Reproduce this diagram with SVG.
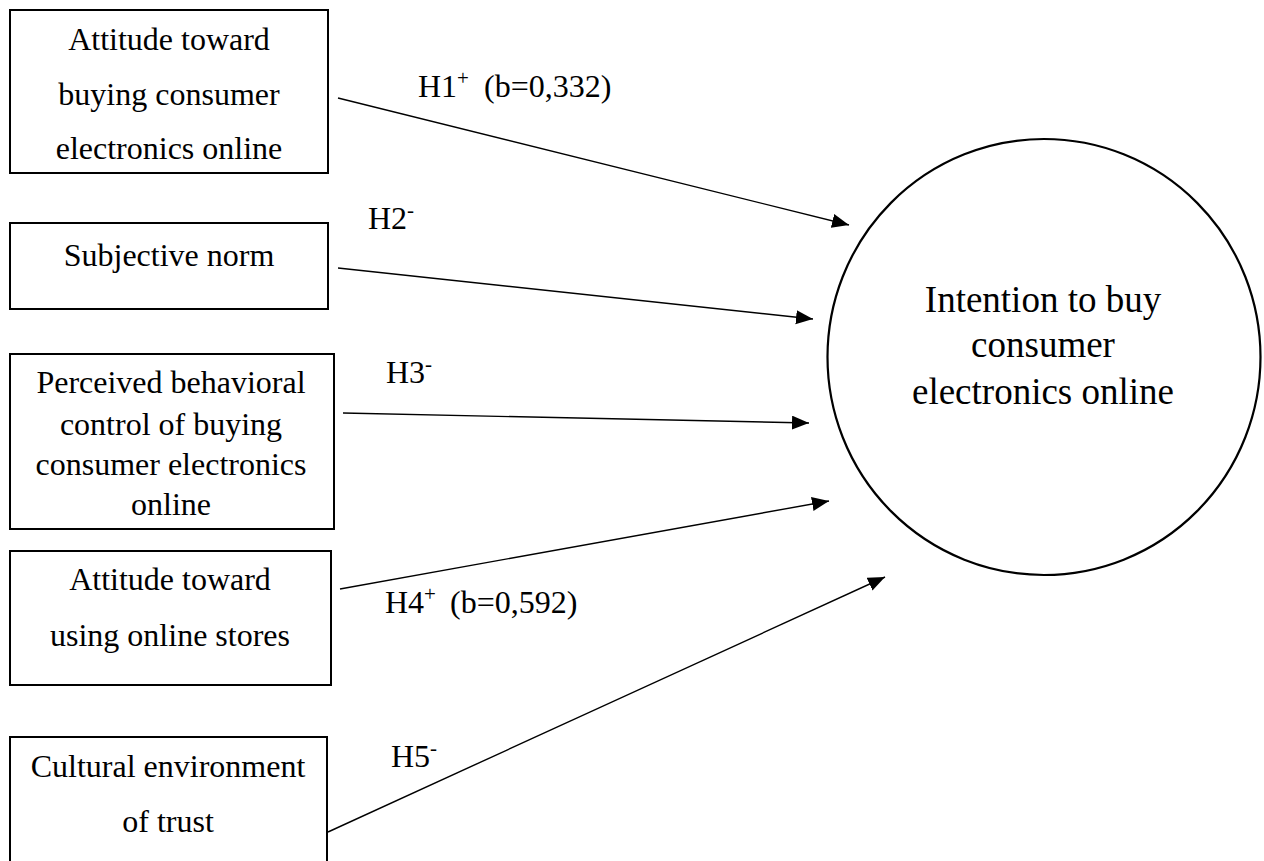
<svg xmlns="http://www.w3.org/2000/svg" width="1264" height="861" viewBox="0 0 1264 861">
  <style>
    .box { fill: #ffffff; stroke: #000000; stroke-width: 2; }
    .ellipse { fill: #ffffff; stroke: #000000; stroke-width: 2.2; }
    text { font-family: "Liberation Serif", "Times New Roman", serif; fill: #000000; }
    .lbl { font-size: 32px; }
    .big { font-size: 37px; }
    .mid { text-anchor: middle; }
    .sup { font-size: 21px; }
    .edge { stroke: #000000; stroke-width: 1.4; fill: none; marker-end: url(#arrow); }
  </style>
  <defs>
    <marker id="arrow" markerUnits="userSpaceOnUse" markerWidth="18" markerHeight="15" refX="17" refY="7" orient="auto">
      <path d="M0,0 L17,7 L0,14 Z" fill="#000000"/>
    </marker>
  </defs>
  <rect width="1264" height="861" fill="#ffffff"/>

  <!-- connectors -->
  <g id="connectors">
    <line class="edge" x1="338" y1="98" x2="849" y2="225"/>
    <line class="edge" x1="338" y1="268" x2="813" y2="319"/>
    <line class="edge" x1="343" y1="413" x2="809" y2="423"/>
    <line class="edge" x1="340" y1="589" x2="829" y2="501"/>
    <line class="edge" x1="328" y1="832" x2="885" y2="577"/>
  </g>

  <!-- path labels -->
  <g id="labels">
    <text class="lbl" x="418" y="97">H1<tspan class="sup" dy="-12">+</tspan><tspan x="484" dy="12">(b=0,332)</tspan></text>
    <text class="lbl" x="368" y="229">H2<tspan class="sup" dy="-12">-</tspan></text>
    <text class="lbl" x="386" y="383">H3<tspan class="sup" dy="-12">-</tspan></text>
    <text class="lbl" x="385" y="613">H4<tspan class="sup" dy="-12">+</tspan><tspan x="450" dy="12">(b=0,592)</tspan></text>
    <text class="lbl" x="391" y="767">H5<tspan class="sup" dy="-12">-</tspan></text>
  </g>

  <g id="attitude-buying">
    <rect class="box" x="10" y="10" width="318" height="163"/>
    <text class="lbl mid" x="169" y="50">Attitude toward</text>
    <text class="lbl mid" x="169" y="105">buying consumer</text>
    <text class="lbl mid" x="169" y="159">electronics online</text>
  </g>

  <g id="subjective-norm">
    <rect class="box" x="10" y="223" width="318" height="86"/>
    <text class="lbl mid" x="169" y="266">Subjective norm</text>
  </g>

  <g id="perceived-control">
    <rect class="box" x="10" y="354" width="324" height="175"/>
    <text class="lbl mid" x="171" y="393">Perceived behavioral</text>
    <text class="lbl mid" x="171" y="435">control of buying</text>
    <text class="lbl mid" x="171" y="475">consumer electronics</text>
    <text class="lbl mid" x="171" y="515">online</text>
  </g>

  <g id="attitude-stores">
    <rect class="box" x="10" y="551" width="321" height="134"/>
    <text class="lbl mid" x="170" y="590">Attitude toward</text>
    <text class="lbl mid" x="170" y="646">using online stores</text>
  </g>

  <g id="cultural-trust">
    <rect class="box" x="10" y="737" width="317" height="140"/>
    <text class="lbl mid" x="168" y="777">Cultural environment</text>
    <text class="lbl mid" x="168" y="832">of trust</text>
  </g>

  <g id="intention">
    <ellipse class="ellipse" cx="1044" cy="357" rx="216.5" ry="218"/>
    <text class="big mid" x="1043" y="312">Intention to buy</text>
    <text class="big mid" x="1043" y="357">consumer</text>
    <text class="big mid" x="1043" y="404">electronics online</text>
  </g>
</svg>
